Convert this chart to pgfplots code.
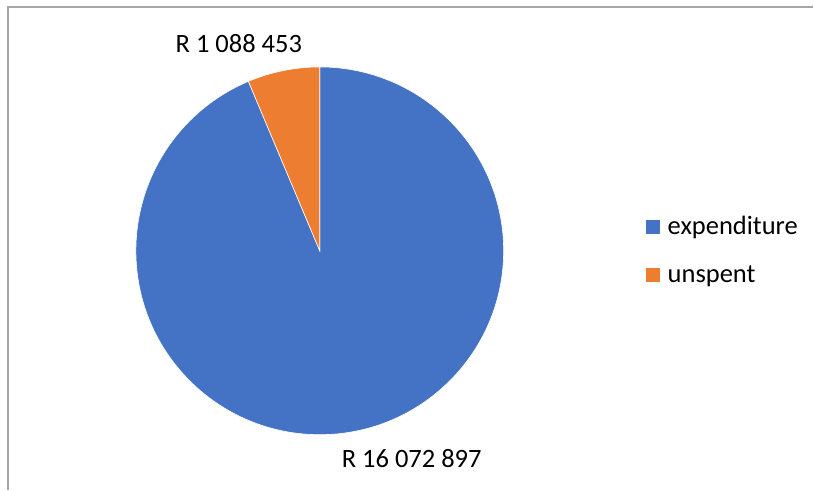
\documentclass[border=0pt]{standalone}
\usepackage{pgfplots}
\usepackage{pgfplotstable}
\pgfplotsset{compat=1.18}
\usepackage{fontspec}
\setmainfont{Carlito}
\definecolor{expblue}{HTML}{4472C4}
\definecolor{unsorange}{HTML}{ED7D31}
\definecolor{framegray}{HTML}{A6A6A6}

\pgfplotstableread{
label value
expenditure 16072897
unspent 1088453
}\piedata
\pgfplotstablegetelem{0}{value}\of\piedata \let\vexp\pgfplotsretval
\pgfplotstablegetelem{1}{value}\of\piedata \let\vuns\pgfplotsretval
\edef\angexp{\fpeval{360*\vexp/(\vexp+\vuns)}}
\edef\endexp{\fpeval{90-\angexp}}

\begin{document}
\begin{tikzpicture}
\begin{axis}[
  scale only axis, width=814pt, height=490pt,
  xmin=0, xmax=814, ymin=0, ymax=490,
  hide axis, clip=false,
]
\fill[white] (axis cs:0,0) rectangle (axis cs:814,490);
\draw[framegray, line width=1.2pt] (axis cs:8,0) -- (axis cs:8,483) -- (axis cs:814,483);
% slices
\fill[expblue, draw=white, line width=0.6pt] (axis cs:320,239) -- ++(90:184pt)
  arc[start angle=90, end angle=\endexp, radius=184pt] -- cycle;
\fill[unsorange, draw=white, line width=0.6pt] (axis cs:320,239) -- ++(\endexp:184pt)
  arc[start angle=\endexp, end angle=-270, radius=184pt] -- cycle;
% data labels
\node[anchor=base, inner sep=0pt, font=\fontsize{26.5}{31}\selectfont] at (axis cs:239,437) {R 1 088 453};
\node[anchor=base, inner sep=0pt, font=\fontsize{26.5}{31}\selectfont] at (axis cs:412,22) {R 16 072 897};
% legend
\fill[expblue] (axis cs:646,256) rectangle (axis cs:660,270);
\fill[unsorange] (axis cs:646,207.5) rectangle (axis cs:660,221.5);
\node[anchor=base west, inner sep=0pt, font=\fontsize{26.5}{31}\selectfont] at (axis cs:668,255) {expenditure};
\node[anchor=base west, inner sep=0pt, font=\fontsize{26.5}{31}\selectfont] at (axis cs:668,207) {unspent};
\end{axis}
\end{tikzpicture}
\end{document}
